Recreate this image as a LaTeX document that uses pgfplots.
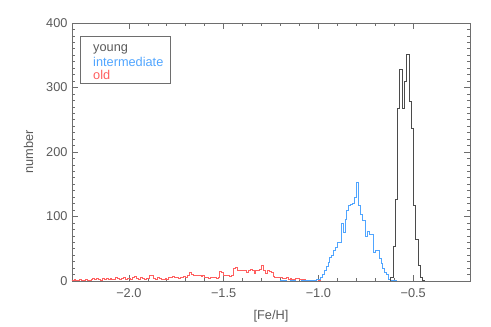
\documentclass[border=0pt]{standalone}
\usepackage{pgfplots}
\pgfplotsset{compat=1.18}
\usepackage{fontspec}
\setmainfont{Liberation Sans}
\definecolor{framegray}{RGB}{110,110,110}
\definecolor{textgray}{RGB}{90,90,90}
\definecolor{younggray}{RGB}{75,75,75}
\definecolor{interblue}{RGB}{80,165,255}
\definecolor{oldred}{RGB}{255,95,95}
\begin{document}
\begin{tikzpicture}
\path[use as bounding box] (-72bp,-46bp) rectangle (419bp,281bp);
\begin{axis}[
  at={(0,0)}, anchor=south west,
  scale only axis, width=398bp, height=258bp,
  xmin=-2.3, xmax=-0.2, ymin=0, ymax=400,
  axis line style={framegray, line width=0.6bp},
  tick style={framegray, line width=0.6bp},
  tick align=inside,
  major tick length=6bp, minor tick length=3bp,
  xtick={-2,-1.5,-1,-0.5},
  xticklabels={−2.0,−1.5,−1.0,−0.5},
  minor x tick num=4,
  ytick={0,100,200,300,400},
  yticklabels={0,100,200,300,400},
  minor y tick num=9,
  ticklabel style={font=\fontsize{12.8}{14}\selectfont, text=textgray},
  xticklabel style={yshift=-4bp},
  yticklabel style={xshift=-1bp},
  xlabel={[Fe/H]}, ylabel={number},
  label style={font=\fontsize{12.8}{14}\selectfont, text=textgray},
  xlabel style={yshift=-6bp},
  ylabel style={yshift=6bp},
  clip=true,
]
% old
\addplot[const plot mark left, oldred, line width=0.7bp] coordinates {
(-2.31,1)(-2.30,1)(-2.29,2)(-2.28,1)(-2.27,1)(-2.26,2)(-2.25,1)(-2.24,1)(-2.23,2)(-2.22,1)(-2.21,1)
(-2.20,3)(-2.19,4)(-2.18,2)(-2.17,4)(-2.16,3)(-2.15,1)(-2.14,4)(-2.13,3)(-2.12,4)(-2.11,2)
(-2.10,4)(-2.09,3)(-2.08,2)(-2.07,5)(-2.06,4)(-2.05,3)(-2.04,4)(-2.03,5)(-2.02,3)(-2.01,4)
(-2.00,4)(-1.99,3)(-1.98,6)(-1.97,7)(-1.96,4)(-1.95,3)(-1.94,5)(-1.93,4)(-1.92,3)(-1.91,4)
(-1.90,4)(-1.89,9)(-1.88,8)(-1.87,4)(-1.86,3)(-1.85,5)(-1.84,4)(-1.83,2)
(-1.82,3)(-1.81,4)(-1.80,3)(-1.79,6)(-1.78,6)(-1.77,7)(-1.76,5)(-1.75,6)(-1.74,4)(-1.73,6)(-1.72,6)(-1.71,7)
(-1.70,5)(-1.69,9)(-1.68,13)(-1.67,10)(-1.66,9)(-1.65,8)(-1.64,8)(-1.63,9)(-1.62,7)(-1.61,8)
(-1.60,6)(-1.59,5)(-1.58,4)(-1.57,6)(-1.56,5)(-1.55,6)(-1.54,4)(-1.53,5)(-1.52,15)(-1.51,14)
(-1.50,8)(-1.49,9)(-1.48,8)(-1.47,7)(-1.46,8)(-1.45,20)(-1.44,21)(-1.43,17)(-1.42,17)(-1.41,16)
(-1.40,16)(-1.39,17)(-1.38,13)(-1.37,17)(-1.36,18)(-1.35,17)(-1.34,12)(-1.33,16)(-1.32,17)(-1.31,18)
(-1.30,24)(-1.29,16)(-1.28,12)(-1.27,17)(-1.26,15)(-1.25,13)(-1.24,7)(-1.23,6)(-1.22,5)(-1.21,6)
(-1.20,5)(-1.19,4)(-1.18,4)(-1.17,5)(-1.16,3)(-1.15,4)(-1.14,3)(-1.13,3)(-1.12,4)(-1.11,4)
(-1.10,3)(-1.09,2)(-1.08,2)(-1.07,1)(-1.06,1)(-1.05,1)(-1.04,1)(-1.03,0)(-1.02,1)(-1.01,0)
(-1.00,1)(-0.99,0)(-0.98,0)
};
% intermediate
\addplot[const plot mark left, interblue, line width=0.7bp] coordinates {
(-1.21,0)(-1.20,1)(-1.17,0)(-1.15,1)(-1.12,0)(-1.09,1)(-1.06,1)(-1.04,1)(-1.03,1)(-1.02,1)
(-1.01,2)(-1.00,3)(-0.99,6)(-0.98,11)(-0.97,17)(-0.96,22)(-0.95,29)(-0.94,36)(-0.93,40)(-0.92,47)
(-0.91,52)(-0.90,60)(-0.89,60)(-0.88,90)(-0.87,75)(-0.86,95)(-0.85,109)(-0.84,117)(-0.83,119)(-0.82,120)
(-0.81,129)(-0.80,153)(-0.79,117)(-0.78,103)(-0.77,94)(-0.76,94)(-0.75,69)(-0.74,77)(-0.73,72)(-0.72,72)
(-0.71,45)(-0.70,47)(-0.69,47)(-0.68,35)(-0.67,27)(-0.66,19)(-0.65,14)(-0.64,10)(-0.63,3)(-0.62,1)
(-0.61,1)(-0.60,1)(-0.59,0)
};
% young
\addplot[const plot mark left, younggray, line width=0.7bp] coordinates {
(-0.630,0)(-0.619,5)(-0.605,53)(-0.595,127)(-0.584,268)(-0.572,328)(-0.558,268)(-0.544,310)
(-0.534,351)(-0.518,278)(-0.507,236)(-0.498,118)(-0.487,64)(-0.474,24)(-0.462,5)(-0.449,1)(-0.440,0)
};
\draw[framegray, line width=0.6bp] ([xshift=8bp,yshift=-13bp]rel axis cs:0,1) rectangle ([xshift=98bp,yshift=-60bp]rel axis cs:0,1);
\node[anchor=west, text=textgray, font=\fontsize{12.8}{14}\selectfont, inner sep=0pt] at ([xshift=21bp,yshift=-26.5bp]rel axis cs:0,1) {young};
\node[anchor=west, text=interblue, font=\fontsize{12.8}{14}\selectfont, inner sep=0pt] at ([xshift=21bp,yshift=-39bp]rel axis cs:0,1) {intermediate};
\node[anchor=west, text=oldred, font=\fontsize{12.8}{14}\selectfont, inner sep=0pt] at ([xshift=21bp,yshift=-51.5bp]rel axis cs:0,1) {old};
\end{axis}
\end{tikzpicture}
\end{document}
